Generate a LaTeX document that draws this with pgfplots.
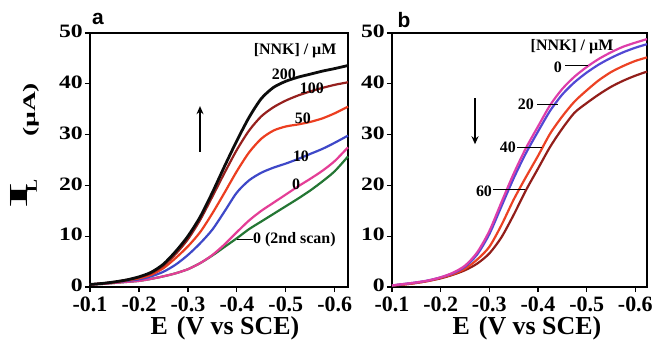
\documentclass[border=0pt]{standalone}
\usepackage{fontspec}
\setmainfont{Liberation Serif}
\setsansfont{Liberation Sans}
\usepackage{graphicx}
\usepackage{pgfplots}
\pgfplotsset{compat=1.18}
\usepackage{pgfplotstable}
\usetikzlibrary{arrows.meta}

\definecolor{cblack}{RGB}{12,12,12}
\definecolor{cbrown}{RGB}{150,32,30}
\definecolor{cred}{RGB}{236,62,32}
\definecolor{cblue}{RGB}{62,72,200}
\definecolor{cpink}{RGB}{228,62,150}
\definecolor{cgreen}{RGB}{36,118,52}
\definecolor{bpink}{RGB}{222,62,170}
\definecolor{bblue}{RGB}{82,72,212}
\definecolor{bred}{RGB}{236,66,36}
\definecolor{bbrown}{RGB}{146,30,26}

% Panel a
\pgfplotstableread{
E black brown red blue pink green
-0.100 0.5 0.5 0.5 0.5 0.5 0.5
-0.125 0.7 0.7 0.7 0.7 0.6 0.6
-0.150 1.0 1.0 0.9 0.9 0.8 0.8
-0.175 1.4 1.4 1.3 1.2 1.0 1.0
-0.200 2.0 1.9 1.7 1.5 1.2 1.2
-0.225 2.9 2.7 2.4 2.1 1.6 1.6
-0.250 4.5 4.2 3.7 3.0 2.1 2.1
-0.275 7.0 6.5 5.7 4.4 2.7 2.7
-0.300 10.0 9.4 8.0 6.3 3.5 3.5
-0.325 13.8 13.2 10.8 8.6 4.7 4.7
-0.350 18.6 17.8 14.5 11.3 6.3 6.2
-0.375 23.8 22.5 18.6 14.9 8.4 7.9
-0.400 28.8 27.0 22.8 18.6 10.8 9.6
-0.425 33.4 30.8 26.5 21.0 13.1 11.4
-0.450 37.1 33.6 29.2 22.5 15.0 12.9
-0.475 39.3 35.4 30.8 23.5 16.6 14.4
-0.500 40.5 36.7 31.6 24.3 18.2 15.9
-0.525 41.3 37.7 32.0 25.2 19.8 17.4
-0.550 41.9 38.5 32.5 26.2 21.3 19.0
-0.575 42.5 39.2 33.2 27.2 22.9 20.8
-0.600 43.0 39.8 34.2 28.4 24.8 22.8
-0.627 43.6 40.3 35.5 29.8 27.5 25.7
}\dataA

% Panel b
\pgfplotstableread{
E pink blue red brown
-0.100 0.3 0.3 0.3 0.3
-0.125 0.6 0.6 0.5 0.5
-0.150 0.9 0.9 0.8 0.8
-0.175 1.3 1.3 1.2 1.2
-0.200 1.9 1.9 1.8 1.7
-0.225 2.8 2.7 2.5 2.4
-0.250 4.2 4.0 3.6 3.3
-0.275 6.8 6.4 5.4 4.6
-0.300 11.0 10.4 7.9 6.6
-0.325 16.7 15.9 12.2 9.8
-0.350 22.3 21.4 17.2 14.2
-0.375 27.3 26.3 21.6 19.0
-0.400 31.6 30.6 25.8 23.3
-0.425 35.8 34.7 30.2 27.6
-0.450 39.0 37.9 33.6 31.2
-0.475 41.4 40.3 36.5 34.3
-0.500 43.3 42.2 38.7 36.2
-0.525 44.9 43.8 40.7 37.9
-0.550 46.2 45.1 42.3 39.4
-0.575 47.3 46.2 43.5 40.6
-0.600 48.1 47.1 44.5 41.6
-0.624 48.8 47.8 45.2 42.4
}\dataB

\tikzset{lab/.style={font=\fontsize{16}{16}\selectfont\bfseries, inner sep=0pt}}
\pgfplotsset{
  common/.style={
    scale only axis, height=254bp,
    ymin=0, ymax=50, x dir=reverse, clip=false,
    axis line style={line width=2.2bp, black},
    tick align=outside, xtick pos=left, ytick pos=left,
    major tick length=5bp,
    tick style={line width=1.2bp, black},
    xtick={-0.1,-0.2,-0.3,-0.4,-0.5,-0.6},
    xticklabels={-0.1,-0.2,-0.3,-0.4,-0.5,-0.6},
    ytick={0,10,20,30,40,50},
    yticklabels={\scalebox{1.25}[1]{0},\scalebox{1.25}[1]{10},\scalebox{1.25}[1]{20},\scalebox{1.25}[1]{30},\scalebox{1.25}[1]{40},\scalebox{1.25}[1]{50}},
    xticklabel style={font=\fontsize{22}{22}\selectfont\bfseries, inner sep=1bp, yshift=-3.5bp},
    yticklabel style={font=\fontsize{19}{19}\selectfont\bfseries, inner sep=2bp, yshift=1.5bp},
    every axis plot/.append style={line width=2.2bp, smooth, tension=0.45},
  },
}

\begin{document}
\begin{tikzpicture}
\useasboundingbox (-90bp,-53bp) rectangle (563bp,287bp);

\begin{axis}[common, at={(0,0)}, anchor=south west, width=258bp, xmin=-0.627, xmax=-0.1]
\addplot[cgreen] table[x=E,y=green] {\dataA};
\addplot[cpink] table[x=E,y=pink] {\dataA};
\addplot[cblue] table[x=E,y=blue] {\dataA};
\addplot[cred] table[x=E,y=red] {\dataA};
\addplot[cbrown] table[x=E,y=brown] {\dataA};
\addplot[cblack, line width=2.8bp] table[x=E,y=black] {\dataA};

\node[lab] at (axis cs:-0.519,46.5) {[NNK] / µM};
\node[lab] at (axis cs:-0.496,41.9) {200};
\node[lab] at (axis cs:-0.553,39.2) {100};
\node[lab] at (axis cs:-0.535,33.3) {50};
\node[lab] at (axis cs:-0.531,25.8) {10};
\node[lab] at (axis cs:-0.521,20.3) {0};
\draw[line width=1.2bp] (axis cs:-0.400,9.3) -- (axis cs:-0.433,9.3);
\node[lab, anchor=west] at (axis cs:-0.433,9.3) {0 (2nd scan)};
\draw[line width=1.3bp, -{Stealth[length=8bp,width=7bp]}] (axis cs:-0.3247,26.6) -- (axis cs:-0.3247,35.6);

\node[font=\fontsize{21}{21}\selectfont\sffamily\bfseries, inner sep=0pt] at (rel axis cs:0.031,1.055) {a};
\node[font=\fontsize{26}{26}\selectfont\bfseries, anchor=base, inner sep=0pt] at (rel axis cs:0.523,-0.186) {E\hspace{0.35em}(V vs SCE)};
\node[rotate=90, font=\bfseries, inner sep=0pt] at (rel axis cs:-0.277,0.362) {\resizebox*{26bp}{17bp}{I}};
\node[rotate=90, font=\bfseries, inner sep=0pt] at (rel axis cs:-0.225,0.396) {\resizebox*{13bp}{10bp}{L}};
\node[rotate=90, font=\bfseries, inner sep=0pt] at (rel axis cs:-0.229,0.697) {\resizebox*{54bp}{16bp}{(µA)}};
\end{axis}

\begin{axis}[common, at={(302bp,0)}, anchor=south west, width=255bp, xmin=-0.624, xmax=-0.1]
\addplot[bbrown] table[x=E,y=brown] {\dataB};
\addplot[bred] table[x=E,y=red] {\dataB};
\addplot[bblue] table[x=E,y=blue] {\dataB};
\addplot[bpink] table[x=E,y=pink] {\dataB};

\node[lab] at (axis cs:-0.470,47.4) {[NNK] / µM};
\node[lab] at (axis cs:-0.441,43.3) {0};
\draw[line width=1.2bp] (axis cs:-0.4555,43.6) -- (axis cs:-0.5028,43.6);
\node[lab] at (axis cs:-0.375,36.0) {20};
\draw[line width=1.2bp] (axis cs:-0.398,36.0) -- (axis cs:-0.442,36.0);
\node[lab] at (axis cs:-0.338,27.5) {40};
\draw[line width=1.2bp] (axis cs:-0.357,27.5) -- (axis cs:-0.408,27.5);
\node[lab] at (axis cs:-0.289,18.8) {60};
\draw[line width=1.2bp] (axis cs:-0.3076,19.2) -- (axis cs:-0.373,19.2);
\draw[line width=1.3bp, -{Stealth[length=8bp,width=7bp]}] (axis cs:-0.2706,37.2) -- (axis cs:-0.2706,28.1);

\node[font=\fontsize{21}{21}\selectfont\sffamily\bfseries, inner sep=0pt] at (rel axis cs:0.047,1.051) {b};
\node[font=\fontsize{26}{26}\selectfont\bfseries, anchor=base, inner sep=0pt] at (rel axis cs:0.529,-0.186) {E\hspace{0.35em}(V vs SCE)};
\end{axis}
\end{tikzpicture}
\end{document}
